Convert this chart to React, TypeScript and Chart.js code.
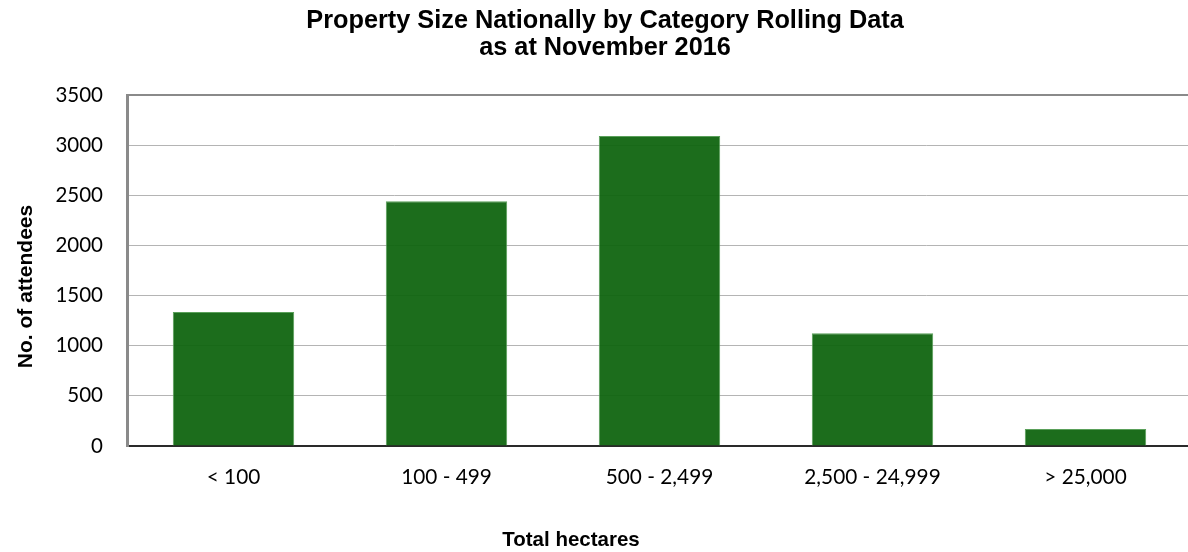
import React, { useEffect, useRef } from "react";
import { Chart, registerables } from "chart.js";

Chart.register(...registerables);

// Property size categories (total hectares) and attendee counts
const categories: string[] = ["< 100", "100 - 499", "500 - 2,499", "2,500 - 24,999", "> 25,000"];
const attendees: number[] = [1335, 2440, 3090, 1125, 170];

const titleLines: string[] = ["Property Size Nationally by Category Rolling Data", "as at November 2016"];
const xAxisTitle = "Total hectares";
const yAxisTitle = "No. of attendees";

const yMin = 0;
const yMax = 3500;
const yStep = 500;

const CANVAS_W = 1192;
const CANVAS_H = 552;

// Draws the two-line heading and both axis titles as canvas text
const headingPlugin = {
  id: "headingPlugin",
  afterDraw(chart: Chart) {
    const ctx = chart.ctx;
    ctx.save();
    ctx.fillStyle = "#000";
    ctx.textAlign = "center";
    ctx.textBaseline = "alphabetic";

    ctx.font = "bold 25.3px 'Liberation Sans', Arial, sans-serif";
    ctx.fillText(titleLines[0], 605, 27.5);
    ctx.fillText(titleLines[1], 605, 55);

    ctx.font = "bold 20.5px 'Liberation Sans', Arial, sans-serif";
    ctx.fillText(xAxisTitle, 571, 546);

    ctx.translate(31.5, 286.5);
    ctx.rotate(-Math.PI / 2);
    ctx.font = "bold 21px 'Liberation Sans', Arial, sans-serif";
    ctx.fillText(yAxisTitle, 0, 0);
    ctx.restore();
  },
};

export default function App() {
  const canvasRef = useRef<HTMLCanvasElement | null>(null);

  useEffect(() => {
    const canvas = canvasRef.current;
    if (!canvas) return;
    const chart = new Chart(canvas, {
      type: "bar",
      data: {
        labels: categories,
        datasets: [
          {
            data: attendees,
            backgroundColor: "rgba(14,100,14,0.94)",
            borderColor: "rgba(90,160,90,1)",
            borderWidth: 1,
            borderSkipped: "bottom",
            categoryPercentage: 1,
            barPercentage: 0.57,
          },
        ],
      },
      options: {
        responsive: false,
        animation: false,
        devicePixelRatio: 1,
        layout: { padding: { top: 95, left: 0, right: 0, bottom: 0 } },
        plugins: {
          legend: { display: false },
          title: { display: false },
          tooltip: { enabled: false },
        },
        scales: {
          x: {
            afterFit(scale: any) {
              scale.height = 106;
            },
            grid: { display: false, drawTicks: false },
            border: { display: true, color: "#2a2a2a", width: 2 },
            ticks: {
              color: "#000",
              padding: 18.5,
              font: { family: "Lato, 'Open Sans', sans-serif", size: 20.8 },
            },
          },
          y: {
            min: yMin,
            max: yMax,
            afterFit(scale: any) {
              scale.width = 127;
            },
            grid: {
              drawTicks: false,
              color: (c: any) => (c.tick && c.tick.value === yMax ? "#8a8a8a" : "#b4b4b4"),
              lineWidth: (c: any) => (c.tick && c.tick.value === yMax ? 2 : 1),
            },
            border: { display: true, color: "#8a8a8a", width: 3 },
            ticks: {
              stepSize: yStep,
              color: "#000",
              padding: 24,
              font: { family: "Lato, 'Open Sans', sans-serif", size: 20.5 },
              callback: (value: any) => String(value),
            },
          },
        },
      },
      plugins: [headingPlugin],
    });
    return () => chart.destroy();
  }, []);

  return (
    <div
      style={{
        position: "absolute",
        left: 0,
        top: 0,
        width: 1188,
        height: 552,
        overflow: "hidden",
        background: "#fff",
      }}
    >
      <canvas ref={canvasRef} width={CANVAS_W} height={CANVAS_H} style={{ display: "block" }} />
    </div>
  );
}
